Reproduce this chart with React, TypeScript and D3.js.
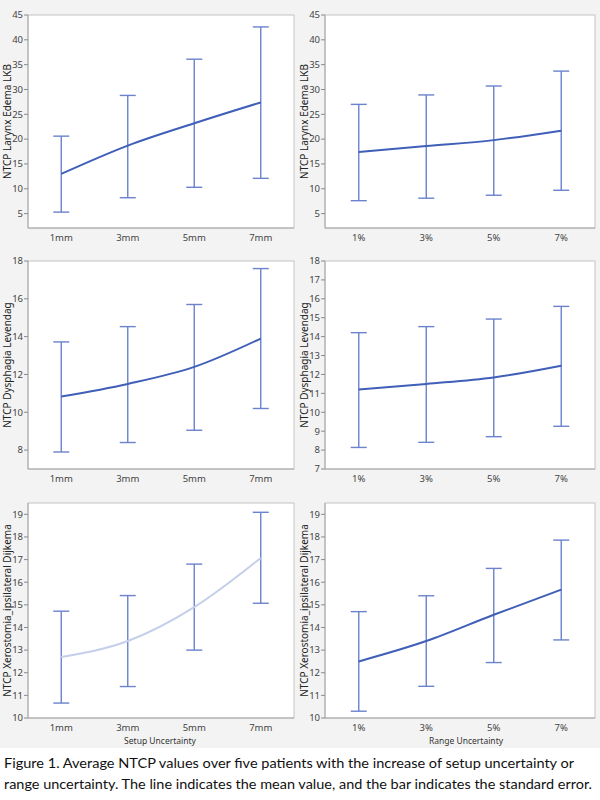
import React from 'react'
import * as d3 from 'd3'

const setupLevels = ['1mm', '3mm', '5mm', '7mm']
const rangeLevels = ['1%', '3%', '5%', '7%']

// NTCP Larynx Edema LKB
const larynxSetupMean = [13.0, 18.7, 23.2, 27.4]
const larynxSetupLow = [5.3, 8.2, 10.3, 12.1]
const larynxSetupHigh = [20.6, 28.8, 36.1, 42.6]
const larynxRangeMean = [17.4, 18.6, 19.8, 21.7]
const larynxRangeLow = [7.6, 8.1, 8.7, 9.7]
const larynxRangeHigh = [27.0, 28.9, 30.7, 33.7]

// NTCP Dysphagia Levendag
const dysSetupMean = [10.83, 11.5, 12.4, 13.9]
const dysSetupLow = [7.9, 8.4, 9.05, 10.2]
const dysSetupHigh = [13.72, 14.53, 15.7, 17.6]
const dysRangeMean = [11.2, 11.5, 11.84, 12.46]
const dysRangeLow = [8.14, 8.41, 8.71, 9.26]
const dysRangeHigh = [14.21, 14.53, 14.93, 15.6]

// NTCP Xerostomia_ipsilateral Dijkema
const xeroSetupMean = [12.7, 13.4, 14.9, 17.07]
const xeroSetupLow = [10.66, 11.39, 13.0, 15.07]
const xeroSetupHigh = [14.72, 15.41, 16.8, 19.09]
const xeroRangeMean = [12.5, 13.4, 14.56, 15.67]
const xeroRangeLow = [10.3, 11.4, 12.45, 13.45]
const xeroRangeHigh = [14.7, 15.4, 16.61, 17.86]

const larynxTicks = [5, 10, 15, 20, 25, 30, 35, 40, 45]
const dysSetupTicks = [8, 10, 12, 14, 16, 18]
const dysRangeTicks = [7, 8, 9, 10, 11, 12, 13, 14, 15, 16, 17, 18]
const xeroTicks = [10, 11, 12, 13, 14, 15, 16, 17, 18, 19]

const captionLines = [
  'Figure 1. Average NTCP values over five patients with the increase of setup uncertainty or',
  'range uncertainty. The line indicates the mean value, and the bar indicates the standard error.',
]

const FONT = '"Noto Sans", "Open Sans", sans-serif'
const BAR = '#6b82cc'
const LINE = '#3f5fb8'

interface PanelProps {
  x0: number
  x1: number
  y0: number
  y1: number
  domain: [number, number]
  ticks: number[]
  levels: string[]
  mean: number[]
  low: number[]
  high: number[]
  title: string
  lineColor?: string
}

const Panel: React.FC<PanelProps> = ({
  x0,
  x1,
  y0,
  y1,
  domain,
  ticks,
  levels,
  mean,
  low,
  high,
  title,
  lineColor = LINE,
}) => {
  const x = d3.scalePoint<string>().domain(levels).range([x0, x1]).padding(0.5)
  const y = d3.scaleLinear().domain(domain).range([y1, y0])
  const pts = levels.map((l, i) => [x(l) as number, y(mean[i])] as [number, number])
  const line = d3.line().curve(d3.curveMonotoneX)(pts) || ''
  const cap = 8

  return (
    <g>
      <rect x={x0} y={y0} width={x1 - x0} height={y1 - y0} fill="#fff" stroke="#c4c4c4" />
      <line x1={x0} x2={x0} y1={y0} y2={y1} stroke="#a8a8a8" />
      <line x1={x0} x2={x1} y1={y1} y2={y1} stroke="#a8a8a8" />
      {ticks.map((t) => (
        <g key={t}>
          <line x1={x0 - 4} x2={x0} y1={y(t)} y2={y(t)} stroke="#8a8a8a" />
          <text
            x={x0 - 5}
            y={y(t)}
            dy="0.35em"
            textAnchor="end"
            fontSize={9.5}
            fill="#444"
            fontFamily={FONT}
          >
            {t}
          </text>
        </g>
      ))}
      {levels.map((l) => (
        <text
          key={l}
          x={x(l)}
          y={y1 + 13}
          textAnchor="middle"
          fontSize={9.5}
          fill="#444"
          fontFamily={FONT}
        >
          {l}
        </text>
      ))}
      {levels.map((l, i) => {
        const cx = x(l) as number
        return (
          <g key={l} stroke={BAR} strokeWidth={1.4}>
            <line x1={cx} x2={cx} y1={y(high[i])} y2={y(low[i])} />
            <line x1={cx - cap} x2={cx + cap} y1={y(high[i])} y2={y(high[i])} />
            <line x1={cx - cap} x2={cx + cap} y1={y(low[i])} y2={y(low[i])} />
          </g>
        )
      })}
      <path d={line} fill="none" stroke={lineColor} strokeWidth={2} />
      <text
        transform={`translate(${x0 - 17.5},${(y0 + y1) / 2}) rotate(-90)`}
        textAnchor="middle"
        fontSize={10}
        fill="#222"
        fontFamily={FONT}
      >
        {title}
      </text>
    </g>
  )
}

export default function App() {
  const L = [28, 294]
  const R = [325, 595]
  return (
    <svg
      width={600}
      height={800}
      style={{ position: 'absolute', left: 0, top: 0, background: '#f3f3f3' }}
    >
      <rect x={0} y={748} width={600} height={52} fill="#fff" />
      <Panel x0={L[0]} x1={L[1]} y0={15} y1={228} domain={[2.1, 45]} ticks={larynxTicks}
        levels={setupLevels} mean={larynxSetupMean} low={larynxSetupLow} high={larynxSetupHigh}
        title="NTCP Larynx Edema LKB" />
      <Panel x0={R[0]} x1={R[1]} y0={15} y1={228} domain={[2.1, 45]} ticks={larynxTicks}
        levels={rangeLevels} mean={larynxRangeMean} low={larynxRangeLow} high={larynxRangeHigh}
        title="NTCP Larynx Edema LKB" />
      <Panel x0={L[0]} x1={L[1]} y0={261} y1={469} domain={[7, 18]} ticks={dysSetupTicks}
        levels={setupLevels} mean={dysSetupMean} low={dysSetupLow} high={dysSetupHigh}
        title="NTCP Dysphagia Levendag" />
      <Panel x0={R[0]} x1={R[1]} y0={261} y1={469} domain={[7, 18]} ticks={dysRangeTicks}
        levels={rangeLevels} mean={dysRangeMean} low={dysRangeLow} high={dysRangeHigh}
        title="NTCP Dysphagia Levendag" />
      <Panel x0={L[0]} x1={L[1]} y0={503} y1={718} domain={[10, 19.5]} ticks={xeroTicks}
        levels={setupLevels} mean={xeroSetupMean} low={xeroSetupLow} high={xeroSetupHigh}
        title="NTCP Xerostomia_ipsilateral Dijkema" lineColor="#c5cfea" />
      <Panel x0={R[0]} x1={R[1]} y0={503} y1={718} domain={[10, 19.5]} ticks={xeroTicks}
        levels={rangeLevels} mean={xeroRangeMean} low={xeroRangeLow} high={xeroRangeHigh}
        title="NTCP Xerostomia_ipsilateral Dijkema" />
      <text x={160} y={744} textAnchor="middle" fontSize={8.5} fill="#333" fontFamily={FONT}>
        Setup Uncertainty
      </text>
      <text x={466} y={744} textAnchor="middle" fontSize={8.5} fill="#333" fontFamily={FONT}>
        Range Uncertainty
      </text>
      <text x={4} y={768} fontSize={14} fill="#111" fontFamily="Lato, sans-serif"
        textLength={570} lengthAdjust="spacingAndGlyphs">
        {captionLines[0]}
      </text>
      <text x={4} y={789} fontSize={14} fill="#111" fontFamily="Lato, sans-serif"
        textLength={588} lengthAdjust="spacingAndGlyphs">
        {captionLines[1]}
      </text>
    </svg>
  )
}
